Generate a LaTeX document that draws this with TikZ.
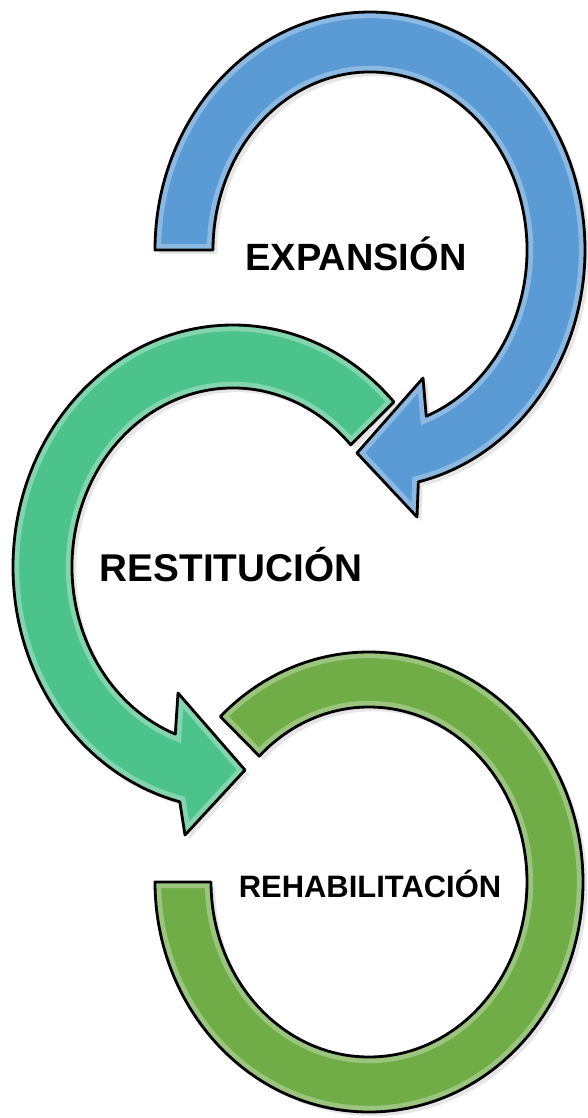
\documentclass[tikz,border=0pt]{standalone}
\usepackage{fontspec}
\setmainfont{Liberation Sans}
\usetikzlibrary{shadows}
\definecolor{expblue}{RGB}{91,155,213}
\definecolor{resteal}{RGB}{77,195,140}
\definecolor{rehgreen}{RGB}{112,173,71}
\newcommand\expansionpath{(180:215 and 238) arc[start angle=180, end angle=437, x radius=215, y radius=238]
  -- (47,267) -- (-13,203) -- (53,128)
  -- (429:157 and 178) arc[start angle=429, end angle=180, x radius=157, y radius=178] -- cycle}
\newcommand\restitucionpath{(-43:220 and 242) arc[start angle=-43, end angle=-256, x radius=220, y radius=242]
  -- (-48,268) -- (12,203) -- (-55,126)
  -- (-249:161 and 179) arc[start angle=-249, end angle=-43, x radius=161, y radius=179] -- cycle}
\newcommand\rehabilitacionpath{(226:214 and 230) arc[start angle=226, end angle=540, x radius=214, y radius=230]
  -- (540:158 and 175) arc[start angle=540, end angle=226, x radius=158, y radius=175] -- cycle}
\tikzset{
  band/.style={draw=black, line width=.8pt, line join=round},
  shine/.style={white, opacity=.3, line width=3.5pt},
  bandshadow/.style={drop shadow={opacity=.2, shadow xshift=1.2pt, shadow yshift=-1.2pt}},
  cyclename/.style={font=\bfseries\fontsize{#1}{#1}\selectfont, inner sep=0pt}
}
\begin{document}
\begin{tikzpicture}[x=0.01cm, y=-0.01cm]
  \useasboundingbox (0,0) rectangle (587,1118);
  \begin{scope}[shift={(370,250)}]
    \fill[expblue, bandshadow] \expansionpath;
    \begin{scope}
      \clip \expansionpath;
      \draw[shine] \expansionpath;
    \end{scope}
    \draw[band] \expansionpath;
  \end{scope}
  \begin{scope}[shift={(233,567)}]
    \fill[resteal, bandshadow] \restitucionpath;
    \begin{scope}
      \clip \restitucionpath;
      \draw[shine] \restitucionpath;
    \end{scope}
    \draw[band] \restitucionpath;
  \end{scope}
  \begin{scope}[shift={(369,882)}]
    \fill[rehgreen, bandshadow] \rehabilitacionpath;
    \begin{scope}
      \clip \rehabilitacionpath;
      \draw[shine] \rehabilitacionpath;
    \end{scope}
    \draw[band] \rehabilitacionpath;
  \end{scope}
  \node[cyclename=10.8pt] (expansion) at (356,254) {EXPANSIÓN};
  \node[cyclename=11pt] (restitucion) at (231,565) {RESTITUCIÓN};
  \node[cyclename=8.8pt] (rehabilitacion) at (370,884) {REHABILITACIÓN};
\end{tikzpicture}
\end{document}
